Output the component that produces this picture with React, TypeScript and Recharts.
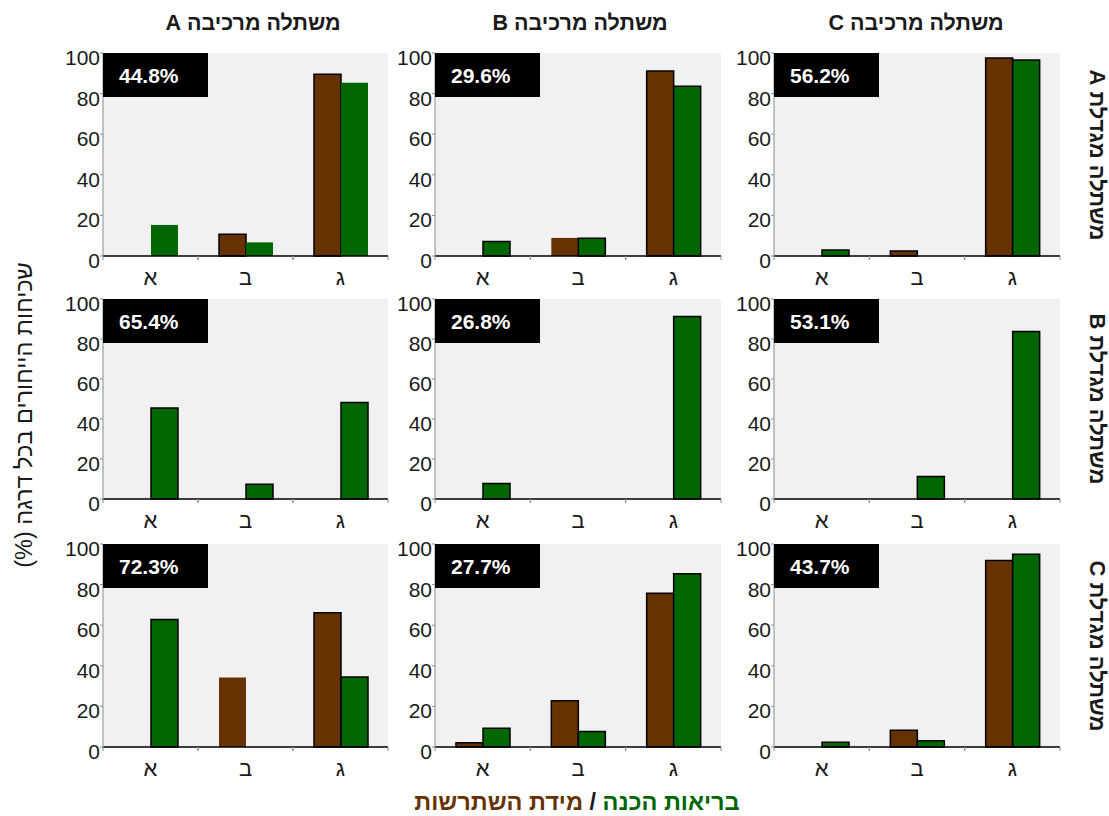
import { BarChart, Bar, Cell, XAxis, YAxis, CartesianGrid } from 'recharts';

const grades = ['א', 'ב', 'ג'];
const graftingNurseries = ['A', 'B', 'C'];
const growingNurseries = ['A', 'B', 'C'];

// share of cuttings per panel, rows = growing nursery, cols = grafting nursery
const sharesGrowerA = [44.8, 29.6, 56.2];
const sharesGrowerB = [65.4, 26.8, 53.1];
const sharesGrowerC = [72.3, 27.7, 43.7];

// frequency (%) per grade, one inner list per grafting nursery
const rootingGrowerA = [[0, 10.7, 89.5], [0, 8.9, 91.1], [0, 2.5, 97.5]];
const healthGrowerA = [[15.3, 6.7, 85.4], [7.2, 8.7, 83.6], [3.0, 0, 96.6]];
const rootingGrowerB = [[0, 0, 0], [0, 0, 0], [0, 0, 0]];
const healthGrowerB = [[45.5, 7.4, 48.3], [7.8, 0, 91.3], [0, 11.3, 83.7]];
const rootingGrowerC = [[0, 34.2, 66.1], [2.1, 22.8, 75.7], [0, 8.3, 91.9]];
const healthGrowerC = [[62.8, 0, 34.5], [9.2, 7.6, 85.3], [2.3, 3.1, 94.9]];

const yTicks = [0, 20, 40, 60, 80, 100];

const shares = [sharesGrowerA, sharesGrowerB, sharesGrowerC];
const rooting = [rootingGrowerA, rootingGrowerB, rootingGrowerC];
const health = [healthGrowerA, healthGrowerB, healthGrowerC];

const FONT = '"Liberation Sans", Arial, sans-serif';
const BROWN = '#663300';
const GREEN = '#006600';
const FRAME = '#8c8c8c';

const colLeft = [103, 435, 774];
const colWidth = [285, 286, 286];
const rowTop = [53, 299, 544];
const rowHeight = [203, 200, 203];
const titleCenter = [253, 580, 916];

// bars drawn without the black edge
const bareBars: Record<string, { rooting?: number[]; health?: number[] }> = {
  '0-0': { health: [0, 1, 2] },
  '0-1': { rooting: [1] },
  '2-0': { rooting: [1] },
};

const ValueTick = (props: any) => {
  const { x, y, payload } = props;
  return (
    <text x={x} y={y + 12} textAnchor="end" fontSize={21} fill="#1a1a1a" fontFamily={FONT}>
      {payload.value}
    </text>
  );
};

// grade label plus short marks on both edges of the band
const GradeTick = (props: any) => {
  const { x, y, payload, width, visibleTicksCount } = props;
  const half = width / visibleTicksCount / 2;
  return (
    <g>
      <line x1={x - half} x2={x - half} y1={y} y2={y + 4} stroke={FRAME} />
      <line x1={x + half} x2={x + half} y1={y} y2={y + 4} stroke={FRAME} />
      <text x={x} y={y + 29} textAnchor="middle" fontSize={22} fill="#1a1a1a" fontFamily={FONT}>
        {payload.value}
      </text>
    </g>
  );
};

function Panel({ row, col }: { row: number; col: number }) {
  const data = grades.map((g, i) => ({
    grade: g,
    rooting: rooting[row][col][i],
    health: health[row][col][i],
  }));
  const w = colWidth[col];
  const h = rowHeight[row];
  const bare = bareBars[`${row}-${col}`] || {};
  const label = `${shares[row][col].toFixed(1)}%`;

  return (
    <div style={{ position: 'absolute', left: colLeft[col] - 60, top: rowTop[row] - 10 }}>
      <BarChart
        width={60 + w + 12}
        height={10 + h + 42}
        data={data}
        margin={{ top: 10, right: 12, left: 0, bottom: 0 }}
        barGap={0}
        barSize={27}
      >
        <CartesianGrid xAxisId="cat" yAxisId="val" fill="#f1f1f1" horizontal={false} vertical={false} />
        <XAxis
          xAxisId="cat"
          dataKey="grade"
          axisLine={{ stroke: '#000', strokeWidth: 1.3 }}
          tickLine={false}
          tickSize={0}
          tickMargin={0}
          height={42}
          interval={0}
          tick={<GradeTick />}
        />
        <XAxis
          xAxisId="top"
          orientation="top"
          dataKey="grade"
          tick={false}
          tickLine={false}
          axisLine={{ stroke: FRAME }}
          height={0}
        />
        <YAxis
          yAxisId="val"
          domain={[0, 100]}
          ticks={yTicks}
          interval={0}
          tickSize={3}
          tickMargin={0}
          tickLine={{ stroke: FRAME }}
          axisLine={{ stroke: FRAME }}
          width={60}
          tick={<ValueTick />}
        />
        <YAxis
          yAxisId="side"
          orientation="right"
          domain={[0, 100]}
          tick={false}
          tickLine={false}
          axisLine={{ stroke: FRAME }}
          width={0}
        />
        <Bar xAxisId="cat" yAxisId="val" dataKey="rooting" fill={BROWN} isAnimationActive={false}>
          {data.map((_, i) => (
            <Cell key={i} stroke={bare.rooting?.includes(i) ? 'none' : '#000'} strokeWidth={1.5} />
          ))}
        </Bar>
        <Bar xAxisId="cat" yAxisId="val" dataKey="health" fill={GREEN} isAnimationActive={false}>
          {data.map((_, i) => (
            <Cell key={i} stroke={bare.health?.includes(i) ? 'none' : '#000'} strokeWidth={1.5} />
          ))}
        </Bar>
      </BarChart>
      <div
        style={{
          position: 'absolute',
          left: 60,
          top: 10,
          width: 105,
          height: 44,
          background: '#000',
          color: '#fff',
          fontFamily: FONT,
          fontWeight: 'bold',
          fontSize: 21,
          lineHeight: '21px',
          boxSizing: 'border-box',
          paddingLeft: 16,
          paddingTop: 12,
        }}
      >
        {label}
      </div>
    </div>
  );
}

const textBase = {
  position: 'absolute' as const,
  fontFamily: FONT,
  direction: 'rtl' as const,
  textAlign: 'center' as const,
  whiteSpace: 'nowrap' as const,
  color: '#1a1a1a',
};

export default function App() {
  return (
    <div style={{ position: 'absolute', left: 0, top: 0, width: 1109, height: 816, background: '#fff' }}>
      {graftingNurseries.map((n, c) => (
        <div
          key={`t${n}`}
          style={{ ...textBase, left: titleCenter[c] - 150, top: 12, width: 300, fontSize: 21.5, lineHeight: '22px', fontWeight: 'bold' }}
        >
          משתלה מרכיבה {n}
        </div>
      ))}
      {growingNurseries.map((n, r) => (
        <div
          key={`r${n}`}
          style={{
            ...textBase,
            left: 1097 - 150,
            top: rowTop[r] + rowHeight[r] / 2 - 11,
            width: 300,
            fontSize: 22,
            lineHeight: '22px',
            fontWeight: 'bold',
            transform: 'rotate(90deg)',
          }}
        >
          משתלה מגדלת {n}
        </div>
      ))}
      <div
        style={{
          ...textBase,
          left: 24 - 200,
          top: 415 - 12,
          width: 400,
          fontSize: 23.5,
          lineHeight: '24px',
          transform: 'rotate(-90deg)',
        }}
      >
        שכיחות הייחורים בכל דרגה (%)
      </div>
      {growingNurseries.map((_, r) =>
        graftingNurseries.map((_, c) => <Panel key={`${r}-${c}`} row={r} col={c} />)
      )}
      <div
        style={{ ...textBase, left: 577 - 250, top: 790, width: 500, fontSize: 23.5, lineHeight: '24px', fontWeight: 'bold' }}
      >
        <span style={{ color: GREEN }}>בריאות הכנה</span> / <span style={{ color: BROWN }}>מידת השתרשות</span>
      </div>
    </div>
  );
}
